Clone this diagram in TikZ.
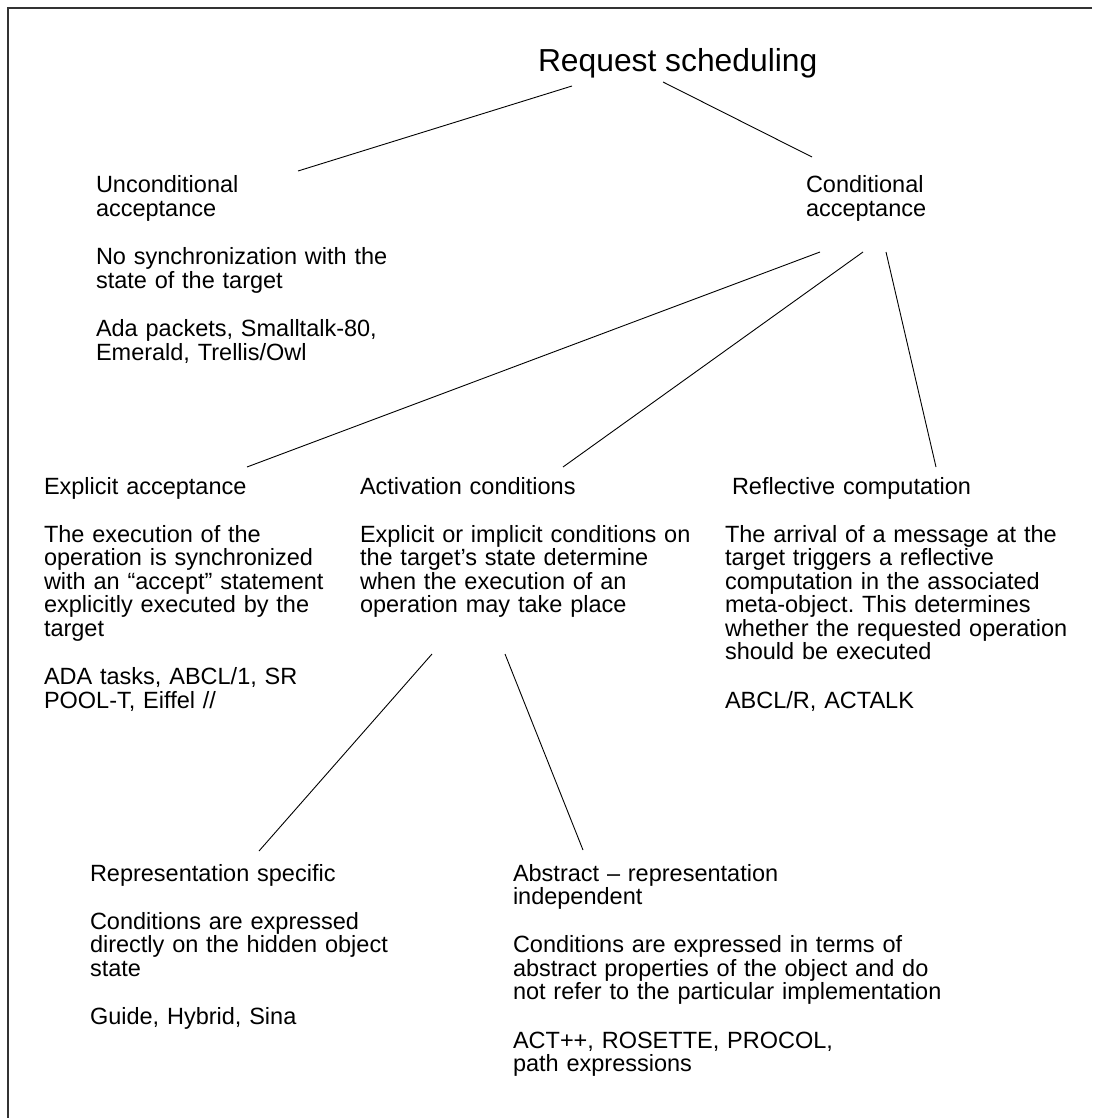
\documentclass[tikz,border=0pt]{standalone}
\usepackage{fontspec}
\setmainfont{Liberation Sans}
\usetikzlibrary{calc}
\frenchspacing
\begin{document}
\begin{tikzpicture}[x=1pt,y=-1pt,
  every node/.style={inner sep=0pt, outer sep=0pt},
  block/.style={anchor=base west, align=left, text width=470pt,
    font=\fontsize{23.5}{23.4}\selectfont\frenchspacing},
  rootlabel/.style={anchor=base west, font=\fontsize{31.8}{36}\selectfont},
  link/.style={line width=0.9pt, black},
  frame/.style={line width=1.2pt, black!80}]
\useasboundingbox (0,0) rectangle (1092,1118);
% outer frame (top and left edges)
\draw[frame] (1092,8) -- (8,8) -- (8,1118);

% taxonomy entries
\node[rootlabel] (root) at (538,72) {Request scheduling};
\node[block] (uncond) at (96,193) {Unconditional\\acceptance\\[25.1pt]
  No synchronization with the\\state of the target\\[25.1pt]
  Ada packets, Smalltalk-80,\\Emerald, Trellis/Owl};
\node[block] (cond) at (806,193) {Conditional\\acceptance};
\node[block] (explicit) at (44,494) {Explicit acceptance\\[25.1pt]
  The execution of the\\operation is synchronized\\with an “accept” statement\\explicitly executed by the\\target\\[25.1pt]
  ADA tasks, ABCL/1, SR\\POOL-T, Eiffel //};
\node[block] (activation) at (360,494) {Activation conditions\\[25.1pt]
  Explicit or implicit conditions on\\the target’s state determine\\when the execution of an\\operation may take place};
\node[block] (reflective) at (725,494) {\hspace*{7pt}Reflective computation\\[25.1pt]
  The arrival of a message at the\\target triggers a reflective\\computation in the associated\\meta-object. This determines\\whether the requested operation\\should be executed\\[25.1pt]
  ABCL/R, ACTALK};
\node[block] (repr) at (90,881) {Representation specific\\[25.1pt]
  Conditions are expressed\\directly on the hidden object\\state\\[25.1pt]
  Guide, Hybrid, Sina};
\node[block] (abstract) at (513,881) {Abstract – representation\\independent\\[25.1pt]
  Conditions are expressed in terms of\\abstract properties of the object and do\\not refer to the particular implementation\\[25.1pt]
  ACT++, ROSETTE, PROCOL,\\path expressions};

% connectors
\draw[link] ($(root.base west)+(34,14)$) -- ($(uncond.base west)+(202,-22)$);
\draw[link] ($(root.base west)+(125,10)$) -- ($(cond.base west)+(6,-36)$);
\draw[link] ($(cond.base west)+(14,59)$) -- ($(explicit.base west)+(203,-27)$);
\draw[link] ($(cond.base west)+(57,59)$) -- ($(activation.base west)+(203,-27)$);
\draw[link] ($(cond.base west)+(80,59)$) -- ($(reflective.base west)+(211,-27)$);
\draw[link] ($(activation.base west)+(72,160)$) -- ($(repr.base west)+(169,-30)$);
\draw[link] ($(activation.base west)+(145,160)$) -- ($(abstract.base west)+(70,-31)$);
\end{tikzpicture}
\end{document}
